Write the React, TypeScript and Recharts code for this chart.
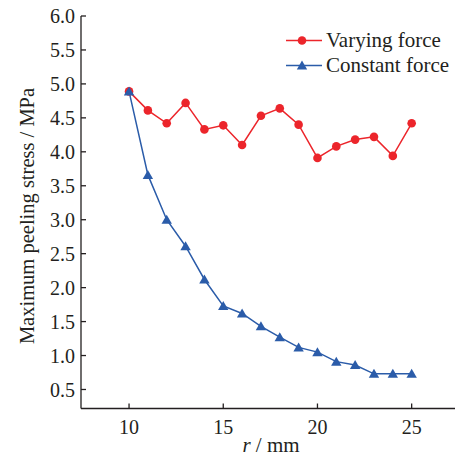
import React from 'react';
import { LineChart, Line, XAxis, YAxis, Legend } from 'recharts';

const radii = [10, 11, 12, 13, 14, 15, 16, 17, 18, 19, 20, 21, 22, 23, 24, 25];
const varyingForce = [4.89, 4.61, 4.42, 4.72, 4.33, 4.39, 4.1, 4.53, 4.64, 4.4, 3.91, 4.08, 4.18, 4.22, 3.94, 4.42];
const constantForce = [4.89, 3.66, 3.0, 2.61, 2.12, 1.73, 1.62, 1.43, 1.27, 1.12, 1.05, 0.91, 0.86, 0.73, 0.73, 0.73];
const xTicks = [10, 15, 20, 25];
const yTicks = [0.5, 1.0, 1.5, 2.0, 2.5, 3.0, 3.5, 4.0, 4.5, 5.0, 5.5, 6.0];
const seriesNames = ['Varying force', 'Constant force'];
const xLabelItalic = 'r';
const xLabelRest = ' / mm';
const yLabel = 'Maximum peeling stress / MPa';

const data = radii.map((r, i) => ({ r, varying: varyingForce[i], constant: constantForce[i] }));

const FONT = "'Liberation Serif', 'Times New Roman', Times, serif";
const INK = '#231f20';
const RED = '#ec252b';
const BLUE = '#2b5ca9';

const CircleDot = (props: any) => {
  const { cx, cy } = props;
  if (cx == null || cy == null) return null;
  return <circle cx={cx} cy={cy} r={4.3} fill={RED} stroke="none" />;
};

const TriangleDot = (props: any) => {
  const { cx, cy } = props;
  if (cx == null || cy == null) return null;
  return (
    <polygon
      points={`${cx},${cy - 5} ${cx - 5.2},${cy + 4} ${cx + 5.2},${cy + 4}`}
      fill={BLUE}
      stroke="none"
    />
  );
};

const renderLegend = () => (
  <div style={{ fontFamily: FONT, fontSize: 21, color: INK }}>
    {seriesNames.map((name, i) => (
      <div key={name} style={{ display: 'flex', alignItems: 'center', height: 25 }}>
        <svg width={41} height={25} style={{ display: 'block' }}>
          <line x1={1} x2={37} y1={12.5} y2={12.5} stroke={i === 0 ? RED : BLUE} strokeWidth={1.5} />
          {i === 0 ? (
            <circle cx={17} cy={12.5} r={4.3} fill={RED} />
          ) : (
            <polygon points="17,7.5 11.8,16.5 22.2,16.5" fill={BLUE} />
          )}
        </svg>
        <span style={{ whiteSpace: 'nowrap', lineHeight: '25px', fontFamily: FONT }}>{name}</span>
      </div>
    ))}
  </div>
);

const XLabel = (props: any) => {
  const vb = props.viewBox || { x: 81, y: 408, width: 374, height: 47 };
  return (
    <text x={vb.x + vb.width / 2 + 3} y={vb.y + 43} textAnchor="middle" style={{ fontFamily: FONT }} fontSize={21} fill={INK}>
      <tspan fontStyle="italic">{xLabelItalic}</tspan>
      <tspan>{xLabelRest}</tspan>
    </text>
  );
};

const YLabel = () => (
  <text
    x={34}
    y={216}
    transform="rotate(-90, 34, 216)"
    textAnchor="middle"
    style={{ fontFamily: FONT }}
    fontSize={20.5}
    fill={INK}
  >
    {yLabel}
  </text>
);

export default function App() {
  return (
    <div style={{ position: 'absolute', left: 0, top: 0, width: 455, height: 455, background: '#fff', fontFamily: FONT }}>
      <LineChart width={455} height={455} data={data} margin={{ top: 16, right: 0, bottom: 0, left: 0 }} style={{ fontFamily: FONT }}>
        <XAxis
          dataKey="r"
          type="number"
          domain={[7.45, 27.3]}
          allowDataOverflow
          ticks={xTicks}
          height={46.5}
          tickSize={-5}
          tickMargin={16.5}
          axisLine={{ stroke: INK, strokeWidth: 1.3 }}
          tickLine={{ stroke: INK, strokeWidth: 1.3 }}
          tick={{ style: { fontFamily: FONT }, fontSize: 20, fill: INK }}
          label={<XLabel />}
        />
        <XAxis
          xAxisId="top"
          orientation="top"
          dataKey="r"
          type="number"
          domain={[7.45, 27.3]}
          allowDataOverflow
          height={0}
          tick={false}
          tickLine={false}
          axisLine={{ stroke: INK, strokeWidth: 1.3 }}
        />
        <YAxis
          type="number"
          domain={[0.22, 6]}
          allowDataOverflow
          ticks={yTicks}
          width={81}
          tickSize={-5}
          tickMargin={11}
          tickFormatter={(v: number) => v.toFixed(1)}
          axisLine={{ stroke: INK, strokeWidth: 1.3 }}
          tickLine={{ stroke: INK, strokeWidth: 1.3 }}
          tick={{ style: { fontFamily: FONT }, fontSize: 20, fill: INK }}
          label={<YLabel />}
        />
        <Legend
          layout="vertical"
          align="center"
          verticalAlign="middle"
          content={renderLegend}
          wrapperStyle={{ left: 285, top: 27.5, width: 'auto', height: 'auto' }}
        />
        <Line
          type="linear"
          dataKey="varying"
          name={seriesNames[0]}
          stroke={RED}
          strokeWidth={1.5}
          dot={<CircleDot />}
          activeDot={false}
          isAnimationActive={false}
        />
        <Line
          type="linear"
          dataKey="constant"
          name={seriesNames[1]}
          stroke={BLUE}
          strokeWidth={1.5}
          dot={<TriangleDot />}
          activeDot={false}
          isAnimationActive={false}
        />
      </LineChart>
    </div>
  );
}
